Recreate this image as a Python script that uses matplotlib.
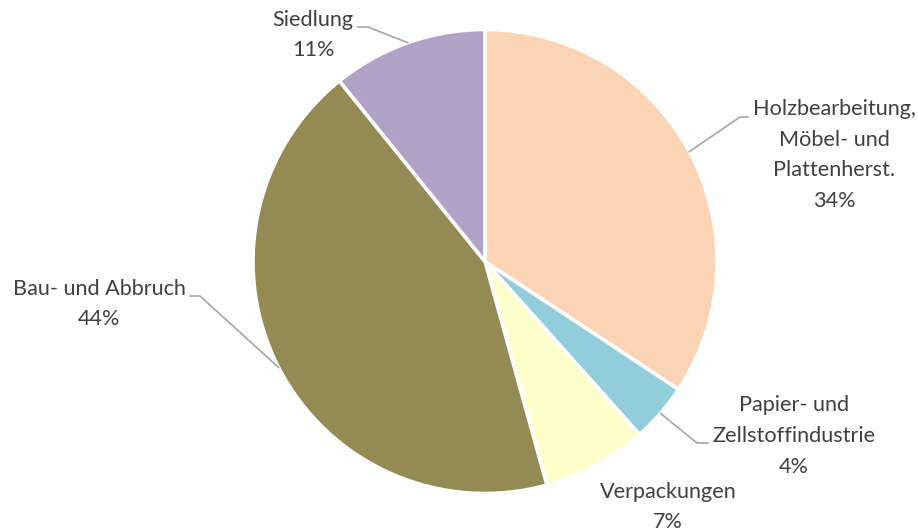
import numpy as np
import matplotlib
matplotlib.use("Agg")
import matplotlib.pyplot as plt

categories = ["Holzbearbeitung,\nMöbel- und\nPlattenherst.", "Papier- und\nZellstoffindustrie",
              "Verpackungen", "Bau- und Abbruch", "Siedlung"]
values = [34.3, 4.1, 7.3, 43.5, 10.8]
colors = ["#FAD4B4", "#92CDDC", "#FFFFCC", "#948A54", "#B3A2C7"]

W, H = 918, 532
fig = plt.figure(figsize=(W / 100, H / 100), dpi=100)
ax = fig.add_axes([0, 0, 1, 1])

cx, cy, R = 485, H - 261.5, 232
wedges, _ = ax.pie(values, colors=colors, startangle=90, counterclock=False,
                   center=(cx, cy), radius=R,
                   wedgeprops=dict(edgecolor="white", linewidth=2.6))
ax.set_xlim(0, W)
ax.set_ylim(0, H)
ax.set_aspect("equal")
ax.axis("off")

# label layout: text center (x, y from top), leader elbow and end (pixels from top)
layout = [
    dict(xy=(834, 155), elbow=(740, 117), end=(748, 117)),
    dict(xy=(794, 436), elbow=(697, 443), end=(708, 443)),
    dict(xy=(668, 507), elbow=None, end=None),
    dict(xy=(99, 304), elbow=(200, 296), end=(190, 296)),
    dict(xy=(313, 35), elbow=(368, 27), end=(358, 27)),
]

total = sum(values)
txtcol = "#404040"
for w, cat, v, lay in zip(wedges, categories, values, layout):
    mid = np.deg2rad((w.theta1 + w.theta2) / 2)
    ex, ey = cx + R * np.cos(mid), cy + R * np.sin(mid)
    tx, ty = lay["xy"]
    pct = int(np.floor(100 * v / total + 0.5))
    ax.text(tx, H - ty, f"{cat}\n{pct}%", ha="center", va="center",
            fontsize=15.6, family=["Lato", "DejaVu Sans"], color=txtcol,
            linespacing=1.68)
    if lay["elbow"] is not None:
        bx, by = lay["elbow"]
        qx, qy = lay["end"]
        ax.plot([ex, bx, qx], [ey, H - by, H - qy], color="#A6A6A6", lw=1.2,
                solid_joinstyle="miter")

fig.savefig("out.png", dpi=100)
